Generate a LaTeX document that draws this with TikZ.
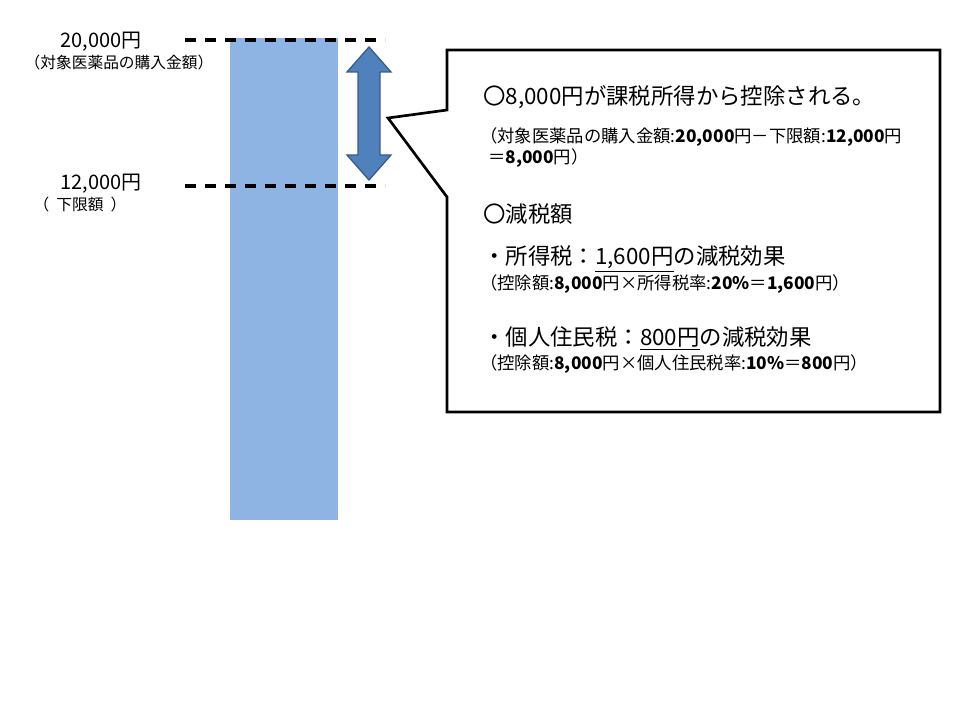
\documentclass[tikz,border=0pt]{standalone}
\usepackage{fontspec}
\setmainfont{Noto Sans CJK JP}
\definecolor{barblue}{RGB}{141,180,227}
\definecolor{arrowblue}{RGB}{79,129,189}
\definecolor{arrowedge}{RGB}{56,93,138}
\tikzset{
  level/.style={black,line width=2.3pt,dash pattern=on 8.5pt off 6.5pt},
  bigtext/.style={anchor=west,inner sep=0pt,font=\fontsize{16.8}{18}\selectfont},
  smalltext/.style={anchor=west,inner sep=0pt,font=\fontsize{13}{14}\selectfont},
  sidetext/.style={inner sep=0pt,font=\fontsize{15}{17}\selectfont},
  sidenote/.style={inner sep=0pt,font=\fontsize{11.8}{13}\selectfont},
}
\begin{document}
\begin{tikzpicture}[x=0.75pt,y=-0.75pt]
\useasboundingbox (0,0) rectangle (960,720);
% bar
\fill[barblue] (230,38) rectangle (338,520);
% levels
\draw[level] (185,40) -- (385,40);
\draw[level] (185,186) -- (385,186);
\path (101,42) node[sidetext] (topvalue) {20,000円};
\path (119,63) node[sidenote] (topnote) {（対象医薬品の購入金額）};
\path (101,184) node[sidetext] (lowvalue) {12,000円};
\path (80,205) node[sidenote] (lownote) {（\ \ 下限額\ \ ）};
% double arrow
\filldraw[fill=arrowblue,draw=arrowedge,line width=1pt]
  (369,47) -- (391,72) -- (380,72) -- (380,155) -- (391,155) -- (369,180)
  -- (347,155) -- (358,155) -- (358,72) -- (347,72) -- cycle;
% callout
\draw[line width=2pt,line join=miter]
  (447,50) -- (940,50) -- (940,412) -- (447,412) -- (447,197)
  -- (388,118) -- (447,110) -- cycle;
\path (483,97) node[bigtext] (deduct) {〇8,000円が課税所得から控除される。};
\path (480,137) node[smalltext] (calcA) {（対象医薬品の購入金額:\textbf{20,000}円－下限額:\textbf{12,000}円};
\path (488,158) node[smalltext] (calcB) {＝\textbf{8,000}円）};
\path (483,214) node[bigtext] (cut) {〇減税額};
\path (483,259) node[bigtext] (income) {・所得税：\underline{1,600円}の減税効果};
\path (480,284) node[smalltext] (calcC) {（控除額:\textbf{8,000}円×所得税率:\textbf{20\%}＝\textbf{1,600}円）};
\path (483,338) node[bigtext] (resident) {・個人住民税：\underline{800円}の減税効果};
\path (480,364) node[smalltext] (calcD) {（控除額:\textbf{8,000}円×個人住民税率:\textbf{10\%}＝\textbf{800}円）};
\end{tikzpicture}
\end{document}
